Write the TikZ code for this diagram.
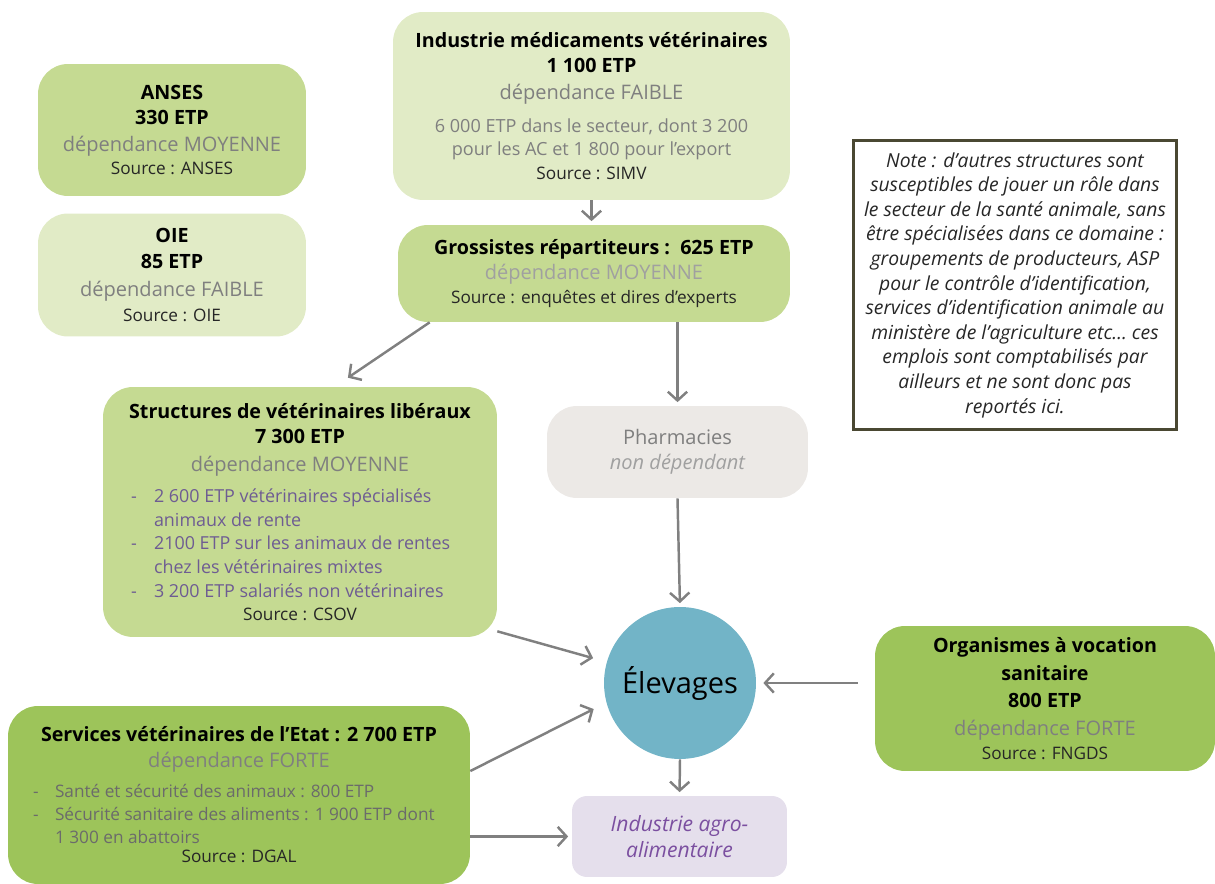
\documentclass[tikz,border=0pt]{standalone}
\usepackage{fontspec}
\setmainfont{Open Sans}
\usepackage{array}
\usetikzlibrary{positioning,arrows.meta}
\definecolor{vertclair}{HTML}{E1EBC6}
\definecolor{vertmoyen}{HTML}{C5DA92}
\definecolor{vertfort}{HTML}{9DC45A}
\definecolor{grisclair}{HTML}{ECE9E6}
\definecolor{lavande}{HTML}{E5DFEC}
\definecolor{bleuelev}{HTML}{72B4C7}
\definecolor{texgris}{HTML}{7F7F7F}
\definecolor{texpale}{HTML}{A0A0A0}
\definecolor{texlist}{HTML}{6E5C92}
\definecolor{texviolet}{HTML}{7B4FA0}
\definecolor{flechegris}{HTML}{808080}
\definecolor{bordnote}{HTML}{4A4832}

\newcommand{\titre}[1]{{\bfseries\fontsize{11.2}{14.4}\selectfont #1}}
\newcommand{\dep}[2][texgris]{{\color{#1}\fontsize{11.4}{14.4}\selectfont #2}}
\newcommand{\src}[1]{{\color{black!85}\fontsize{9.8}{13}\selectfont Source : #1}}

\begin{document}
\begin{tikzpicture}[x=0.02cm, y=-0.02cm,
        box/.style={rounded corners=0.6cm, align=center, inner sep=2pt, font=\fontsize{11.2}{14.4}\selectfont},
        fleche/.style={draw=flechegris, line width=1.4pt, -{Straight Barb[length=5pt, width=11pt]}, shorten >=2pt}
    ]
        \useasboundingbox (0,0) rectangle (1215,884);

        % Boxes
        \node[box, fill=vertclair, minimum width=7.94cm, minimum height=3.76cm] (indus) at (591.5,106)
            {\titre{Industrie médicaments vétérinaires}\\ \titre{1 100 ETP}\\[1pt] \dep{dépendance FAIBLE}\\[4pt]
             {\color{texgris}\fontsize{10.3}{13.5}\selectfont 6 000 ETP dans le secteur, dont 3 200}\\[-1pt]
             {\color{texgris}\fontsize{10.3}{13.5}\selectfont pour les AC et 1 800 pour l’export}\\[-1pt] \src{SIMV}};
        \node[box, fill=vertmoyen, minimum width=5.36cm, minimum height=2.64cm] (anses) at (172,130)
            {\titre{ANSES}\\ \titre{330 ETP}\\[1pt] \dep{dépendance MOYENNE}\\[-1pt] \src{ANSES}};
        \node[box, fill=vertclair, minimum width=5.36cm, minimum height=2.46cm] (oie) at (172,275)
            {\titre{OIE}\\[0.5pt] \titre{85 ETP}\\[1.5pt] \dep{dépendance FAIBLE}\\ \src{OIE}};
        \node[box, fill=vertmoyen, minimum width=7.84cm, minimum height=1.94cm] (gross) at (594,273.5)
            {\titre{Grossistes répartiteurs :~~625 ETP}\\ \dep[texpale]{dépendance MOYENNE}\\[-1pt] \src{enquêtes et dires d’experts}};
        \node[box, fill=vertmoyen, minimum width=7.88cm, minimum height=5cm] (liberaux) at (300,512)
            {\titre{Structures de vétérinaires libéraux}\\ \titre{7 300 ETP}\\[1pt] \dep{dépendance MOYENNE}\\[5pt]
             {\color{texlist}\fontsize{10.2}{13.4}\selectfont
             \begin{tabular}{@{}p{0.46cm}@{}>{\raggedright\arraybackslash}p{6.3cm}@{}}
             - & 2 600 ETP vétérinaires spécialisés animaux de rente\\
             - & 2100 ETP sur les animaux de rentes chez les vétérinaires mixtes\\
             - & 3 200 ETP salariés non vétérinaires
             \end{tabular}}\\[1pt] \src{CSOV}};
        \node[box, fill=grisclair, minimum width=5.22cm, minimum height=1.84cm] (pharma) at (677.5,452)
            {\dep{Pharmacies}\\ \dep[texpale]{\itshape non dépendant}};
        \node[circle, fill=bleuelev, minimum size=3.04cm, font=\fontsize{16.5}{20}\selectfont] (elev) at (680,683) {Élevages};
        \node[box, fill=vertfort, minimum width=6.8cm, minimum height=2.9cm] (orga) at (1045,698.5)
            {\titre{Organismes à vocation}\\[1.5pt] \titre{sanitaire}\\[1pt] \titre{800 ETP}\\[1.5pt] \dep{dépendance FORTE}\\[-1pt] \src{FNGDS}};
        \node[box, fill=vertfort, minimum width=9.24cm, minimum height=3.56cm] (etat) at (239,795)
            {\titre{Services vétérinaires de l’Etat : 2 700 ETP}\\ \dep{dépendance FORTE}\\[4pt]
             {\color{black!58}\fontsize{9.8}{13.2}\selectfont
             \begin{tabular}{@{}p{0.44cm}@{}>{\raggedright\arraybackslash}p{7.8cm}@{}}
             - & Santé et sécurité des animaux : 800 ETP\\
             - & Sécurité sanitaire des aliments : 1 900 ETP dont 1 300 en abattoirs
             \end{tabular}}\\[-1pt] \src{DGAL}};
        \node[box, fill=lavande, minimum width=4.3cm, minimum height=1.62cm, rounded corners=0.3cm,
              font=\fontsize{12}{15}\selectfont] (agro) at (679.5,836.5)
            {\color{texviolet}\itshape Industrie agro-\\ \color{texviolet}\itshape alimentaire};

        % Note
        \node[draw=bordnote, line width=1.7pt, minimum width=6.48cm, minimum height=5.8cm, align=center,
              font=\itshape\fontsize{11}{14}\selectfont, text=black!85] (note) at (1015,285)
            {Note : d’autres structures sont\\ susceptibles de jouer un rôle dans\\ le secteur de la santé animale, sans\\
             être spécialisées dans ce domaine :\\ groupements de producteurs, ASP\\ pour le contrôle d’identification,\\
             services d’identification animale au\\ ministère de l’agriculture etc… ces\\ emplois sont comptabilisés par\\
             ailleurs et ne sont donc pas\\ reportés ici.};

        % Edges
        \coordinate (orgaIn) at ([xshift=-0.34cm]orga.west |- elev.east);
        \draw[fleche] (indus.south) -- (indus.south |- gross.north);
        \draw[fleche] ([xshift=0.64cm]gross.south west) -- ([xshift=0.9cm, yshift=0.14cm]liberaux.north);
        \draw[fleche] (pharma.north |- gross.south) -- (pharma.north);
        \draw[fleche] (pharma.south) -- (elev.north);
        \draw[fleche, shorten >=8pt] ([yshift=0.12cm]liberaux.south east) -- (elev.164);
        \draw[fleche, shorten >=8pt] ([yshift=0.48cm]etat.east) -- (elev.195);
        \draw[fleche] (etat.east |- agro.west) -- (agro.west);
        \draw[fleche] (elev.south) -- (agro.north);
        \draw[fleche, shorten >=4pt] (orgaIn) -- (elev.east);
    \end{tikzpicture}
\end{document}
